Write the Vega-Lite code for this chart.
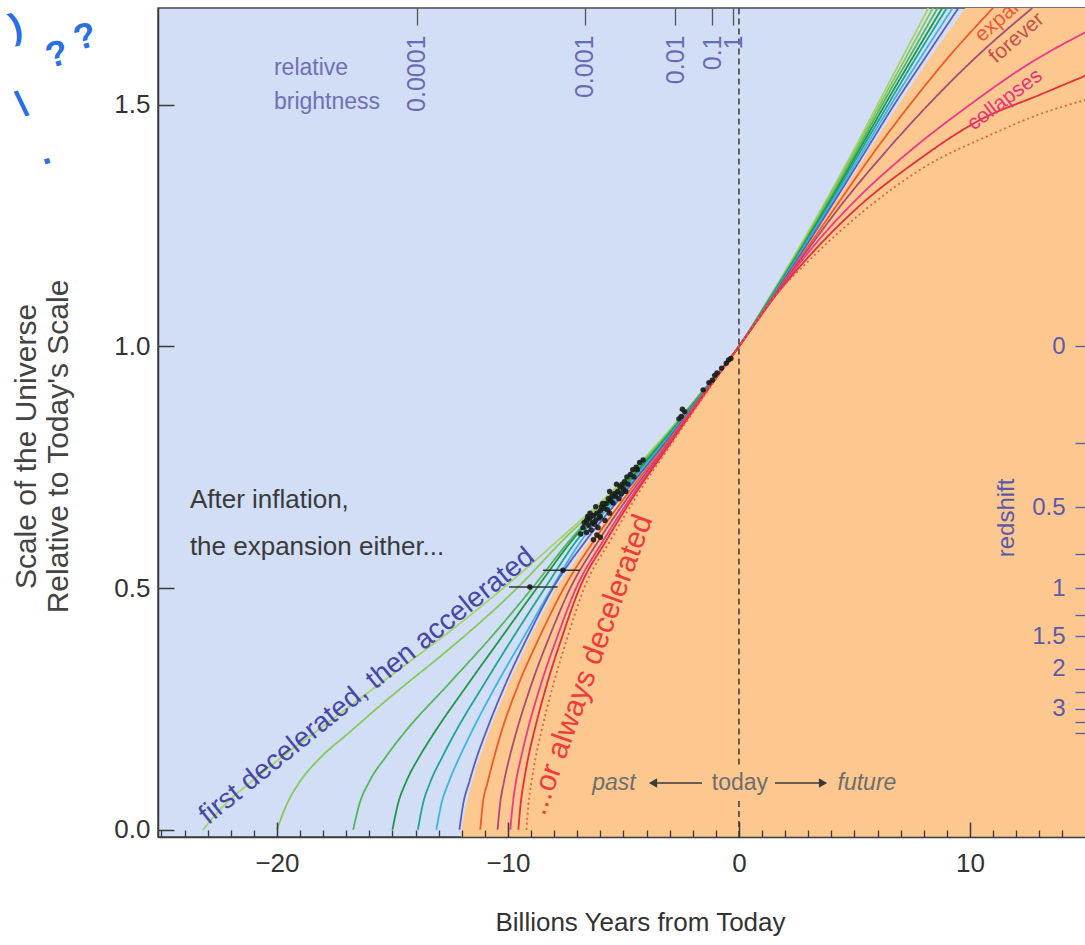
{
"$schema": "https://vega.github.io/schema/vega-lite/v6.json",
"width": 927, "height": 829,
"autosize": {"type": "none"},
"padding": {"left": 158, "top": 8, "right": 0, "bottom": 108},
"config": {"font": "Liberation Sans", "view": {"fill": "#d2def6", "stroke": "#4a4a4a", "strokeWidth": 1.5}},
"resolve": {"axis": {"x": "independent", "y": "independent"}},
"datasets": {
"boundary": [
{"t":-12.05,"a":-0.015},{"t":-12.0,"a":0},{"t":-11.82,"a":0.05},{"t":-11.55,"a":0.1},{"t":-11.22,"a":0.15},{"t":-10.85,"a":0.2},{"t":-10.0,"a":0.3},{"t":-9.02,"a":0.4},{"t":-7.92,"a":0.5},{"t":-6.45,"a":0.6},{"t":-4.83,"a":0.7},{"t":-3.16,"a":0.8},{"t":-1.58,"a":0.9},{"t":0,"a":1.0},{"t":1.43,"a":1.1},{"t":2.83,"a":1.2},{"t":4.2,"a":1.3},{"t":5.55,"a":1.4},{"t":6.9,"a":1.5},{"t":8.3,"a":1.6},{"t":9.8,"a":1.7},{"t":12.6,"a":1.9},{"t":15.2,"a":2.1}
],
"curves": [
{"c":"G1","t":-23.2,"a":0},{"c":"G1","t":-22.3,"a":0.05},{"c":"G1","t":-21.1,"a":0.1},{"c":"G1","t":-19.8,"a":0.15},{"c":"G1","t":-18.4,"a":0.2},{"c":"G1","t":-17.0,"a":0.25},{"c":"G1","t":-15.6,"a":0.3},{"c":"G1","t":-14.2,"a":0.35},{"c":"G1","t":-12.8,"a":0.4},{"c":"G1","t":-10.2,"a":0.5},{"c":"G1","t":-7.8,"a":0.6},{"c":"G1","t":-5.5,"a":0.7},{"c":"G1","t":-3.5,"a":0.8},{"c":"G1","t":-1.72,"a":0.9},{"c":"G1","t":0,"a":1},{"c":"G1","t":1.3,"a":1.1},{"c":"G1","t":2.55,"a":1.2},{"c":"G1","t":3.75,"a":1.3},{"c":"G1","t":4.9,"a":1.4},{"c":"G1","t":6.0,"a":1.5},{"c":"G1","t":7.1,"a":1.6},{"c":"G1","t":8.2,"a":1.7},
{"c":"G2","t":-20.0,"a":0},{"c":"G2","t":-19.6,"a":0.05},{"c":"G2","t":-19.0,"a":0.1},{"c":"G2","t":-18.1,"a":0.15},{"c":"G2","t":-16.9,"a":0.2},{"c":"G2","t":-15.7,"a":0.25},{"c":"G2","t":-14.45,"a":0.3},{"c":"G2","t":-13.15,"a":0.35},{"c":"G2","t":-11.9,"a":0.4},{"c":"G2","t":-9.6,"a":0.5},{"c":"G2","t":-7.6,"a":0.6},{"c":"G2","t":-5.4,"a":0.7},{"c":"G2","t":-3.45,"a":0.8},{"c":"G2","t":-1.7,"a":0.9},{"c":"G2","t":0,"a":1},{"c":"G2","t":1.32,"a":1.1},{"c":"G2","t":2.6,"a":1.2},{"c":"G2","t":3.8,"a":1.3},{"c":"G2","t":4.97,"a":1.4},{"c":"G2","t":6.1,"a":1.5},{"c":"G2","t":7.25,"a":1.6},{"c":"G2","t":8.4,"a":1.7},
{"c":"G3","t":-16.7,"a":0},{"c":"G3","t":-16.45,"a":0.05},{"c":"G3","t":-16.0,"a":0.1},{"c":"G3","t":-15.3,"a":0.15},{"c":"G3","t":-14.5,"a":0.2},{"c":"G3","t":-12.6,"a":0.3},{"c":"G3","t":-10.7,"a":0.4},{"c":"G3","t":-8.95,"a":0.5},{"c":"G3","t":-7.3,"a":0.6},{"c":"G3","t":-5.3,"a":0.7},{"c":"G3","t":-3.4,"a":0.8},{"c":"G3","t":-1.68,"a":0.9},{"c":"G3","t":0,"a":1},{"c":"G3","t":1.34,"a":1.1},{"c":"G3","t":2.63,"a":1.2},{"c":"G3","t":3.87,"a":1.3},{"c":"G3","t":5.05,"a":1.4},{"c":"G3","t":6.2,"a":1.5},{"c":"G3","t":7.4,"a":1.6},{"c":"G3","t":8.6,"a":1.7},
{"c":"G4","t":-15.0,"a":0},{"c":"G4","t":-14.78,"a":0.05},{"c":"G4","t":-14.4,"a":0.1},{"c":"G4","t":-13.85,"a":0.15},{"c":"G4","t":-13.2,"a":0.2},{"c":"G4","t":-11.75,"a":0.3},{"c":"G4","t":-10.25,"a":0.4},{"c":"G4","t":-8.75,"a":0.5},{"c":"G4","t":-7.2,"a":0.6},{"c":"G4","t":-5.2,"a":0.7},{"c":"G4","t":-3.35,"a":0.8},{"c":"G4","t":-1.66,"a":0.9},{"c":"G4","t":0,"a":1},{"c":"G4","t":1.36,"a":1.1},{"c":"G4","t":2.67,"a":1.2},{"c":"G4","t":3.93,"a":1.3},{"c":"G4","t":5.13,"a":1.4},{"c":"G4","t":6.32,"a":1.5},{"c":"G4","t":7.55,"a":1.6},{"c":"G4","t":8.8,"a":1.7},
{"c":"T5","t":-13.9,"a":0},{"c":"T5","t":-13.7,"a":0.05},{"c":"T5","t":-13.35,"a":0.1},{"c":"T5","t":-12.85,"a":0.15},{"c":"T5","t":-12.3,"a":0.2},{"c":"T5","t":-11.05,"a":0.3},{"c":"T5","t":-9.75,"a":0.4},{"c":"T5","t":-8.4,"a":0.5},{"c":"T5","t":-7.0,"a":0.6},{"c":"T5","t":-5.1,"a":0.7},{"c":"T5","t":-3.3,"a":0.8},{"c":"T5","t":-1.64,"a":0.9},{"c":"T5","t":0,"a":1},{"c":"T5","t":1.38,"a":1.1},{"c":"T5","t":2.71,"a":1.2},{"c":"T5","t":3.99,"a":1.3},{"c":"T5","t":5.22,"a":1.4},{"c":"T5","t":6.45,"a":1.5},{"c":"T5","t":7.7,"a":1.6},{"c":"T5","t":9.0,"a":1.7},
{"c":"C6","t":-13.1,"a":0},{"c":"C6","t":-12.9,"a":0.05},{"c":"C6","t":-12.55,"a":0.1},{"c":"C6","t":-12.1,"a":0.15},{"c":"C6","t":-11.6,"a":0.2},{"c":"C6","t":-10.5,"a":0.3},{"c":"C6","t":-9.3,"a":0.4},{"c":"C6","t":-8.1,"a":0.5},{"c":"C6","t":-6.8,"a":0.6},{"c":"C6","t":-5.0,"a":0.7},{"c":"C6","t":-3.25,"a":0.8},{"c":"C6","t":-1.62,"a":0.9},{"c":"C6","t":0,"a":1},{"c":"C6","t":1.4,"a":1.1},{"c":"C6","t":2.75,"a":1.2},{"c":"C6","t":4.06,"a":1.3},{"c":"C6","t":5.32,"a":1.4},{"c":"C6","t":6.58,"a":1.5},{"c":"C6","t":7.9,"a":1.6},{"c":"C6","t":9.25,"a":1.7},
{"c":"B7","t":-12.1,"a":0},{"c":"B7","t":-11.95,"a":0.05},{"c":"B7","t":-11.67,"a":0.1},{"c":"B7","t":-11.35,"a":0.15},{"c":"B7","t":-10.97,"a":0.2},{"c":"B7","t":-10.12,"a":0.3},{"c":"B7","t":-9.14,"a":0.4},{"c":"B7","t":-8.05,"a":0.5},{"c":"B7","t":-6.6,"a":0.6},{"c":"B7","t":-4.9,"a":0.7},{"c":"B7","t":-3.2,"a":0.8},{"c":"B7","t":-1.6,"a":0.9},{"c":"B7","t":0,"a":1},{"c":"B7","t":1.42,"a":1.1},{"c":"B7","t":2.8,"a":1.2},{"c":"B7","t":4.13,"a":1.3},{"c":"B7","t":5.43,"a":1.4},{"c":"B7","t":6.72,"a":1.5},{"c":"B7","t":8.1,"a":1.6},{"c":"B7","t":9.5,"a":1.7},
{"c":"R8","t":-11.2,"a":0},{"c":"R8","t":-11.1,"a":0.05},{"c":"R8","t":-10.87,"a":0.1},{"c":"R8","t":-10.6,"a":0.15},{"c":"R8","t":-10.3,"a":0.2},{"c":"R8","t":-9.55,"a":0.3},{"c":"R8","t":-8.62,"a":0.4},{"c":"R8","t":-7.58,"a":0.5},{"c":"R8","t":-6.25,"a":0.6},{"c":"R8","t":-4.75,"a":0.7},{"c":"R8","t":-3.12,"a":0.8},{"c":"R8","t":-1.57,"a":0.9},{"c":"R8","t":0,"a":1},{"c":"R8","t":1.45,"a":1.1},{"c":"R8","t":2.9,"a":1.2},{"c":"R8","t":4.35,"a":1.3},{"c":"R8","t":5.82,"a":1.4},{"c":"R8","t":7.4,"a":1.5},{"c":"R8","t":9.1,"a":1.6},{"c":"R8","t":11.0,"a":1.7},
{"c":"D9","t":-10.45,"a":0},{"c":"D9","t":-10.35,"a":0.05},{"c":"D9","t":-10.17,"a":0.1},{"c":"D9","t":-9.93,"a":0.15},{"c":"D9","t":-9.65,"a":0.2},{"c":"D9","t":-8.99,"a":0.3},{"c":"D9","t":-8.2,"a":0.4},{"c":"D9","t":-7.3,"a":0.5},{"c":"D9","t":-6.05,"a":0.6},{"c":"D9","t":-4.62,"a":0.7},{"c":"D9","t":-3.05,"a":0.8},{"c":"D9","t":-1.54,"a":0.9},{"c":"D9","t":0,"a":1},{"c":"D9","t":1.47,"a":1.1},{"c":"D9","t":2.98,"a":1.2},{"c":"D9","t":4.55,"a":1.3},{"c":"D9","t":6.3,"a":1.4},{"c":"D9","t":8.2,"a":1.5},{"c":"D9","t":10.3,"a":1.6},{"c":"D9","t":12.7,"a":1.7},
{"c":"P10","t":-9.9,"a":0},{"c":"P10","t":-9.8,"a":0.05},{"c":"P10","t":-9.65,"a":0.1},{"c":"P10","t":-9.43,"a":0.15},{"c":"P10","t":-9.18,"a":0.2},{"c":"P10","t":-8.58,"a":0.3},{"c":"P10","t":-7.86,"a":0.4},{"c":"P10","t":-7.05,"a":0.5},{"c":"P10","t":-5.85,"a":0.6},{"c":"P10","t":-4.5,"a":0.7},{"c":"P10","t":-3.0,"a":0.8},{"c":"P10","t":-1.52,"a":0.9},{"c":"P10","t":0,"a":1},{"c":"P10","t":1.5,"a":1.1},{"c":"P10","t":3.1,"a":1.2},{"c":"P10","t":5.0,"a":1.3},{"c":"P10","t":7.3,"a":1.4},{"c":"P10","t":10.0,"a":1.5},{"c":"P10","t":12.4,"a":1.58},{"c":"P10","t":15.0,"a":1.65},
{"c":"R11","t":-9.55,"a":0},{"c":"R11","t":-9.46,"a":0.05},{"c":"R11","t":-9.31,"a":0.1},{"c":"R11","t":-9.12,"a":0.15},{"c":"R11","t":-8.88,"a":0.2},{"c":"R11","t":-8.32,"a":0.3},{"c":"R11","t":-7.65,"a":0.4},{"c":"R11","t":-6.9,"a":0.5},{"c":"R11","t":-5.72,"a":0.6},{"c":"R11","t":-4.42,"a":0.7},{"c":"R11","t":-2.96,"a":0.8},{"c":"R11","t":-1.5,"a":0.9},{"c":"R11","t":0,"a":1},{"c":"R11","t":1.5,"a":1.1},{"c":"R11","t":3.2,"a":1.195},{"c":"R11","t":5.2,"a":1.29},{"c":"R11","t":7.6,"a":1.38},{"c":"R11","t":10.5,"a":1.47},{"c":"R11","t":13.0,"a":1.52},{"c":"R11","t":15.0,"a":1.56},
{"c":"O12","t":-9.2,"a":0},{"c":"O12","t":-9.12,"a":0.05},{"c":"O12","t":-8.98,"a":0.1},{"c":"O12","t":-8.8,"a":0.15},{"c":"O12","t":-8.57,"a":0.2},{"c":"O12","t":-8.04,"a":0.3},{"c":"O12","t":-7.41,"a":0.4},{"c":"O12","t":-6.7,"a":0.5},{"c":"O12","t":-5.55,"a":0.6},{"c":"O12","t":-4.3,"a":0.7},{"c":"O12","t":-2.9,"a":0.8},{"c":"O12","t":-1.47,"a":0.9},{"c":"O12","t":0,"a":1},{"c":"O12","t":1.5,"a":1.1},{"c":"O12","t":3.3,"a":1.19},{"c":"O12","t":5.4,"a":1.28},{"c":"O12","t":8.0,"a":1.37},{"c":"O12","t":11.0,"a":1.44},{"c":"O12","t":13.0,"a":1.48},{"c":"O12","t":15.0,"a":1.51}
],
"points": [
{"t":-0.35,"a":0.975},{"t":-0.55,"a":0.965},{"t":-0.75,"a":0.955},{"t":-0.95,"a":0.945},{"t":-1.15,"a":0.93},{"t":-1.3,"a":0.925},{"t":-1.55,"a":0.91},{"t":-2.35,"a":0.865},{"t":-2.5,"a":0.855},{"t":-2.6,"a":0.85},{"t":-4.15,"a":0.765},{"t":-4.3,"a":0.76},{"t":-4.45,"a":0.75},{"t":-4.6,"a":0.745},{"t":-4.7,"a":0.735},{"t":-4.85,"a":0.73},{"t":-4.95,"a":0.72},{"t":-5.05,"a":0.715},{"t":-5.15,"a":0.71},{"t":-5.25,"a":0.7},{"t":-5.3,"a":0.715},{"t":-5.4,"a":0.695},{"t":-5.5,"a":0.69},{"t":-5.55,"a":0.68},{"t":-5.65,"a":0.685},{"t":-5.75,"a":0.675},{"t":-5.85,"a":0.665},{"t":-5.9,"a":0.675},{"t":-6.0,"a":0.66},{"t":-6.05,"a":0.645},{"t":-6.15,"a":0.655},{"t":-6.2,"a":0.64},{"t":-6.3,"a":0.65},{"t":-6.35,"a":0.635},{"t":-6.45,"a":0.645},{"t":-6.5,"a":0.63},{"t":-6.6,"a":0.64},{"t":-6.7,"a":0.635},{"t":-6.4,"a":0.62},{"t":-6.1,"a":0.625},{"t":-5.8,"a":0.64},{"t":-5.6,"a":0.655},{"t":-5.2,"a":0.685},{"t":-4.9,"a":0.7},{"t":-6.6,"a":0.615},
{"t":-6.75,"a":0.625},{"t":-6.55,"a":0.648},{"t":-6.25,"a":0.632},{"t":-6.0,"a":0.648},{"t":-5.95,"a":0.668},{"t":-5.7,"a":0.662},{"t":-5.45,"a":0.676},{"t":-5.35,"a":0.69},{"t":-5.1,"a":0.695},{"t":-5.0,"a":0.705},{"t":-4.8,"a":0.715},{"t":-4.55,"a":0.73},{"t":-4.4,"a":0.745},{"t":-6.45,"a":0.655},{"t":-6.2,"a":0.668},{"t":-5.6,"a":0.7},{"t":-2.45,"a":0.87},{"t":-1.05,"a":0.94},{"t":-0.45,"a":0.972},{"t":-6.85,"a":0.612},{"t":-6.15,"a":0.61},{"t":-6.3,"a":0.6},{"t":-6.0,"a":0.605},
{"t":-7.62,"a":0.537},{"t":-9.05,"a":0.502}
],
"ebars": [{"t0":-8.48,"t1":-6.88,"a":0.537},{"t0":-9.95,"t1":-7.85,"a":0.502}],
"todayline": [{"t":0,"a0":-0.015,"a1":0.06},{"t":0,"a0":0.135,"a1":1.7}]
},
"layer": [
{"data": {"name": "boundary"}, "mark": {"type": "area", "color": "#fcc890", "clip": true},
 "encoding": {
  "x": {"field": "t", "type": "quantitative", "scale": {"domain": [-25.15, 14.98], "nice": false, "zero": false},
   "axis": {"orient": "bottom", "zindex": 1, "values": [-20, -10, 0, 10], "tickSize": -15, "tickWidth": 1.5, "tickColor": "#3a3a3a", "labelPadding": 28, "labelFontSize": 26, "labelColor": "#333333", "domainColor": "#3a3a3a", "domainWidth": 1.5, "grid": false,
    "title": "Billions Years from Today", "titleFontSize": 26, "titleFontWeight": "normal", "titleColor": "#333333", "titleX": 482, "titleY": 85, "titleBaseline": "middle", "titleAlign": "center"}},
  "y": {"field": "a", "type": "quantitative", "scale": {"domain": [-0.015, 1.7], "nice": false, "zero": false},
   "axis": {"orient": "left", "zindex": 1, "values": [0, 0.5, 1, 1.5], "format": ".1f", "tickSize": -16, "tickWidth": 1.5, "tickColor": "#3a3a3a", "labelPadding": 24, "labelFontSize": 26, "labelColor": "#333333", "domainColor": "#3a3a3a", "domainWidth": 1.5, "grid": false,
    "title": ["Scale of the Universe", "Relative to Today's Scale"], "titleFontSize": 30, "titleFontWeight": "normal", "titleColor": "#444444", "titleAngle": 270, "titleX": -132, "titleY": 438, "titleBaseline": "middle", "titleAlign": "center", "titleLineHeight": 32}},
  "y2": {"datum": -0.015}
 }},
{"data": {"name": "curves"}, "mark": {"type": "line", "strokeWidth": 1.8, "clip": true, "interpolate": "monotone"},
 "encoding": {
  "x": {"field": "t", "type": "quantitative", "axis": null},
  "y": {"field": "a", "type": "quantitative", "axis": null},
  "color": {"field": "c", "type": "nominal", "legend": null, "scale": {"domain": ["G1","G2","G3","G4","T5","C6","B7","R8","D9","P10","R11","O12"], "range": ["#a6d46a","#86c95c","#54b85a","#1f9747","#1fa58e","#3ab5e6","#5d5cc0","#f25a2a","#a94a78","#f0388a","#e22f3c","#e8603a"]}},
  "strokeDash": {"field": "c", "type": "nominal", "legend": null, "scale": {"domain": ["G1","G2","G3","G4","T5","C6","B7","R8","D9","P10","R11","O12"], "range": [[1,0],[1,0],[1,0],[1,0],[1,0],[1,0],[1,0],[1,0],[1,0],[1,0],[1,0],[2,3]]}}
 }},
{"data": {"name": "todayline"}, "mark": {"type": "rule", "strokeDash": [6, 4], "color": "#222222", "strokeWidth": 1.3},
 "encoding": {"x": {"field": "t", "type": "quantitative", "axis": null}, "y": {"field": "a0", "type": "quantitative", "axis": null}, "y2": {"field": "a1"}}},
{"data": {"name": "ebars"}, "mark": {"type": "rule", "color": "#333333", "strokeWidth": 1.5},
 "encoding": {
  "x": {"field": "t0", "type": "quantitative",
   "axis": {"orient": "bottom", "zindex": 1, "values": [-25,-24,-23,-22,-21,-19,-18,-17,-16,-15,-14,-13,-12,-11,-9,-8,-7,-6,-5,-4,-3,-2,-1,1,2,3,4,5,6,7,8,9,11,12,13,14], "tickSize": -7, "tickWidth": 1.3, "tickColor": "#3a3a3a", "labels": false, "domain": false, "grid": false, "title": null}},
  "x2": {"field": "t1"},
  "y": {"field": "a", "type": "quantitative", "axis": null}
 }},
{"data": {"name": "points"}, "mark": {"type": "circle", "size": 30, "color": "#1a1a1a", "opacity": 0.9},
 "encoding": {
  "x": {"field": "t", "type": "quantitative",
   "axis": {"orient": "top", "zindex": 1, "values": [-13.95, -6.68, -2.75, -1.15, -0.25], "labelExpr": "datum.value < -10 ? '0.0001' : datum.value < -5 ? '0.001' : datum.value < -2 ? '0.01' : datum.value < -0.5 ? '0.1' : '1'",
    "tickSize": -17, "tickWidth": 1.3, "tickColor": "#555555", "labelPadding": -10, "labelAngle": 270, "labelAlign": "right", "labelBaseline": "middle", "labelFontSize": 25, "labelColor": "#6a6ab4", "domain": false, "grid": false, "title": null, "labelOverlap": false, "labelBound": false, "labelFlush": false}},
  "y": {"field": "a", "type": "quantitative",
   "axis": {"orient": "right", "zindex": 1, "values": [1, 0.8, 0.6667, 0.5714, 0.5, 0.4444, 0.4, 0.3333, 0.2857, 0.25, 0.2222, 0.2], "labelExpr": "datum.value == 1 ? '0' : datum.value == 0.6667 ? '0.5' : datum.value == 0.5 ? '1' : datum.value == 0.4 ? '1.5' : datum.value == 0.3333 ? '2' : datum.value == 0.25 ? '3' : ''",
    "tickSize": -10, "tickWidth": 1.3, "tickColor": "#5a5aa8", "labelPadding": -10, "labelAlign": "right", "labelBaseline": "middle", "labelFontSize": 24, "labelColor": "#5a5aa8", "domain": false, "grid": false, "title": null, "labelOverlap": false, "labelBound": false, "labelFlush": false}}
 }},
{"data": {"values": [{"s": "After inflation,", "t": -23.77, "a": 0.682}, {"s": "the expansion either...", "t": -23.77, "a": 0.585}]},
 "mark": {"type": "text", "align": "left", "baseline": "middle", "fontSize": 26, "color": "#3a3a3a"},
 "encoding": {"x": {"field": "t", "type": "quantitative", "axis": null}, "y": {"field": "a", "type": "quantitative", "axis": null}, "text": {"field": "s"}}},
{"data": {"values": [{"s": "first decelerated, then accelerated", "t": -16.1, "a": 0.297}]},
 "mark": {"type": "text", "align": "center", "baseline": "middle", "fontSize": 28, "angle": 321, "color": "#4646a6"},
 "encoding": {"x": {"field": "t", "type": "quantitative", "axis": null}, "y": {"field": "a", "type": "quantitative", "axis": null}, "text": {"field": "s"}}},
{"data": {"values": [{"s": "...or always decelerated", "t": -6.45, "a": 0.341}]},
 "mark": {"type": "text", "align": "center", "baseline": "middle", "fontSize": 30, "angle": 290, "color": "#ee3b3b"},
 "encoding": {"x": {"field": "t", "type": "quantitative", "axis": null}, "y": {"field": "a", "type": "quantitative", "axis": null}, "text": {"field": "s"}}},
{"data": {"values": [{"s": "relative", "t": -20.13, "a": 1.576}, {"s": "brightness", "t": -20.13, "a": 1.505}]},
 "mark": {"type": "text", "align": "left", "baseline": "middle", "fontSize": 23, "color": "#7070b8"},
 "encoding": {"x": {"field": "t", "type": "quantitative", "axis": null}, "y": {"field": "a", "type": "quantitative", "axis": null}, "text": {"field": "s"}}},
{"data": {"values": [{"s": "past", "t": -5.41, "a": 0.0966}, {"s": "future", "t": 5.54, "a": 0.0966}]},
 "mark": {"type": "text", "align": "center", "baseline": "middle", "fontSize": 23, "fontStyle": "italic", "color": "#6e6e6e"},
 "encoding": {"x": {"field": "t", "type": "quantitative", "axis": null}, "y": {"field": "a", "type": "quantitative", "axis": null}, "text": {"field": "s"}}},
{"data": {"values": [{"s": "today", "t": 0.04, "a": 0.0966}]},
 "mark": {"type": "text", "align": "center", "baseline": "middle", "fontSize": 23, "color": "#6e6e6e"},
 "encoding": {"x": {"field": "t", "type": "quantitative", "axis": null}, "y": {"field": "a", "type": "quantitative", "axis": null}, "text": {"field": "s"}}},
{"data": {"values": [{"t0": -3.7, "t1": -1.6, "a": 0.0966}, {"t0": 1.56, "t1": 3.6, "a": 0.0966}]},
 "mark": {"type": "rule", "color": "#3a3a3a", "strokeWidth": 1.5},
 "encoding": {"x": {"field": "t0", "type": "quantitative", "axis": null}, "x2": {"field": "t1"}, "y": {"field": "a", "type": "quantitative", "axis": null}}},
{"data": {"values": [{"dir": "l", "t": -3.72, "a": 0.0966}, {"dir": "r", "t": 3.64, "a": 0.0966}]},
 "mark": {"type": "point", "filled": true, "size": 90, "color": "#3a3a3a", "opacity": 1},
 "encoding": {"x": {"field": "t", "type": "quantitative", "axis": null}, "y": {"field": "a", "type": "quantitative", "axis": null},
  "shape": {"field": "dir", "type": "nominal", "legend": null, "scale": {"domain": ["l", "r"], "range": ["triangle-left", "triangle-right"]}}}},
{"data": {"values": [{"s": "expands", "t": 10.52, "a": 1.628}]},
 "mark": {"type": "text", "align": "left", "baseline": "alphabetic", "fontSize": 21, "angle": 319, "color": "#ec5a3c", "clip": true},
 "encoding": {"x": {"field": "t", "type": "quantitative", "axis": null}, "y": {"field": "a", "type": "quantitative", "axis": null}, "text": {"field": "s"}}},
{"data": {"values": [{"s": "forever", "t": 11.13, "a": 1.584}]},
 "mark": {"type": "text", "align": "left", "baseline": "alphabetic", "fontSize": 21, "angle": 319, "color": "#c8504a", "clip": true},
 "encoding": {"x": {"field": "t", "type": "quantitative", "axis": null}, "y": {"field": "a", "type": "quantitative", "axis": null}, "text": {"field": "s"}}},
{"data": {"values": [{"s": "collapses", "t": 11.52, "a": 1.51}]},
 "mark": {"type": "text", "align": "center", "baseline": "middle", "fontSize": 21, "angle": 323, "color": "#e8357c"},
 "encoding": {"x": {"field": "t", "type": "quantitative", "axis": null}, "y": {"field": "a", "type": "quantitative", "axis": null}, "text": {"field": "s"}}},
{"data": {"values": [{"s": "redshift", "t": 11.6, "a": 0.645}]},
 "mark": {"type": "text", "align": "center", "baseline": "middle", "fontSize": 24, "angle": 270, "color": "#5a5aaa"},
 "encoding": {"x": {"field": "t", "type": "quantitative", "axis": null}, "y": {"field": "a", "type": "quantitative", "axis": null}, "text": {"field": "s"}}},
{"data": {"values": [{"s": "?", "t": -29.52, "a": 1.603}, {"s": "?", "t": -28.31, "a": 1.64}, {"s": "\\", "t": -31.04, "a": 1.499}, {"s": ".", "t": -30.04, "a": 1.40}, {"s": ")", "t": -31.3, "a": 1.66}]},
 "mark": {"type": "text", "align": "center", "baseline": "middle", "fontSize": 36, "fontWeight": "bold", "angle": 345, "color": "#2b6fe6", "clip": false},
 "encoding": {"x": {"field": "t", "type": "quantitative", "axis": null}, "y": {"field": "a", "type": "quantitative", "axis": null}, "text": {"field": "s"}}}
]
}
